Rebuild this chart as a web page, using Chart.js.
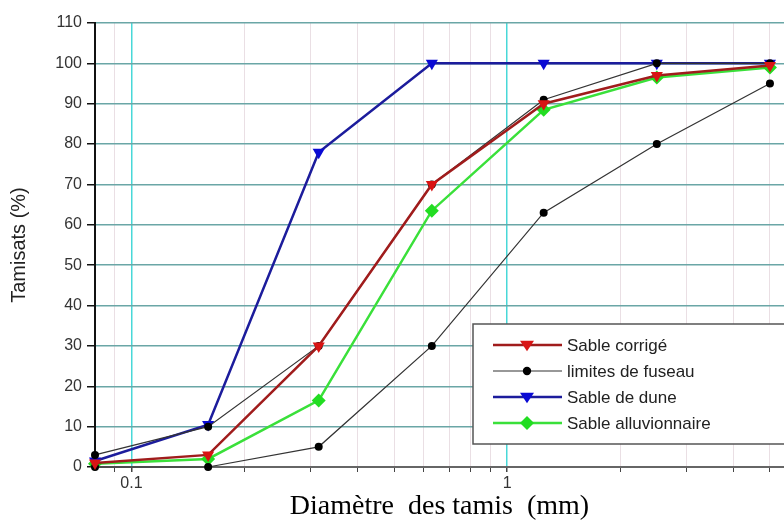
<!DOCTYPE html>
<html>
<head>
<meta charset="utf-8">
<script src="https://cdn.jsdelivr.net/npm/chart.js@4.4.1/dist/chart.umd.min.js"></script>
<style>
  html, body { margin: 0; padding: 0; background: #fff; }
  #wrap { width: 784px; height: 522px; }
</style>
</head>
<body>
<div id="wrap"><canvas id="sieveChart"></canvas></div>
<script>
// sieve sizes (mm) and passing percentages
const sieves = [0.08, 0.16, 0.315, 0.63, 1.25, 2.5, 5];
const sableCorrige = [1, 3, 30, 70, 90, 97, 99.5];
const fuseauHaut = [3, 10, 30, 70, 91, 100, 100];
const fuseauBas = [0, 0, 5, 30, 63, 80, 95];
const sableDune = [1.5, 10.5, 78, 100, 100, 100, 100];
const sableAlluv = [0.8, 2, 16.5, 63.5, 88.5, 96.5, 99];

const xTicks = [0.09, 0.1, 0.2, 0.3, 0.4, 0.5, 0.6, 0.7, 0.8, 0.9, 1, 2, 3, 4, 5];
const xLabels = { 0.1: '0.1', 1: '1' };

const legendItems = [
  { label: 'Sable corrigé', line: '#a01c1c', lw: 2.5, mark: 'triangle', color: '#d81414' },
  { label: 'limites de fuseau', line: '#333333', lw: 1.2, mark: 'circle', color: '#000000' },
  { label: 'Sable de dune', line: '#1c1c9c', lw: 2.5, mark: 'triangle', color: '#0a0ad4' },
  { label: 'Sable alluvionnaire', line: '#3ae03a', lw: 2.5, mark: 'diamond', color: '#22dd22' }
];

const pts = (arr) => sieves.map((s, i) => ({ x: s, y: arr[i] }));

function drawMark(ctx, kind, x, y, r, color) {
  ctx.fillStyle = color;
  ctx.beginPath();
  if (kind === 'triangle') {
    ctx.moveTo(x - r, y - r * 0.6);
    ctx.lineTo(x + r, y - r * 0.6);
    ctx.lineTo(x, y + r * 0.9);
  } else if (kind === 'circle') {
    ctx.arc(x, y, r * 0.6, 0, Math.PI * 2);
  } else {
    ctx.moveTo(x, y - r);
    ctx.lineTo(x + r, y);
    ctx.lineTo(x, y + r);
    ctx.lineTo(x - r, y);
  }
  ctx.closePath();
  ctx.fill();
}

const boxLegend = {
  id: 'boxLegend',
  afterDraw(chart) {
    const ctx = chart.ctx;
    const a = chart.chartArea;
    const bx = a.left + 378, by = 324, bw = 330, bh = 120;
    ctx.save();
    ctx.fillStyle = '#ffffff';
    ctx.fillRect(bx, by, bw, bh);
    ctx.strokeStyle = '#555555';
    ctx.lineWidth = 1.5;
    ctx.strokeRect(bx, by, bw, bh);
    ctx.font = '17px "Liberation Sans", Arial, sans-serif';
    ctx.textBaseline = 'middle';
    legendItems.forEach((it, i) => {
      const y = by + 21 + i * 26;
      ctx.strokeStyle = it.line;
      ctx.lineWidth = it.lw;
      ctx.beginPath();
      ctx.moveTo(bx + 20, y);
      ctx.lineTo(bx + 89, y);
      ctx.stroke();
      drawMark(ctx, it.mark, bx + 54, y, 7, it.color);
      ctx.fillStyle = '#222222';
      ctx.fillText(it.label, bx + 94, y + 1);
    });
    ctx.restore();
  }
};

const ctx = document.getElementById('sieveChart').getContext('2d');
const sieveChart = new Chart(ctx, {
  type: 'line',
  data: {
    datasets: [
      {
        label: 'Sable corrigé', data: pts(sableCorrige),
        borderColor: '#a01c1c', backgroundColor: '#d81414', borderWidth: 2.5,
        pointStyle: 'triangle', rotation: 180, pointRadius: 7, pointBorderWidth: 0
      },
      {
        label: 'limites de fuseau', data: pts(fuseauHaut),
        borderColor: '#333333', backgroundColor: '#000000', borderWidth: 1.2,
        pointStyle: 'circle', pointRadius: 4, pointBorderWidth: 0
      },
      {
        label: 'limites de fuseau (bas)', data: pts(fuseauBas),
        borderColor: '#333333', backgroundColor: '#000000', borderWidth: 1.2,
        pointStyle: 'circle', pointRadius: 4, pointBorderWidth: 0
      },
      {
        label: 'Sable de dune', data: pts(sableDune),
        borderColor: '#1c1c9c', backgroundColor: '#0a0ad4', borderWidth: 2.5,
        pointStyle: 'triangle', rotation: 180, pointRadius: 7, pointBorderWidth: 0
      },
      {
        label: 'Sable alluvionnaire', data: pts(sableAlluv),
        borderColor: '#3ae03a', backgroundColor: '#22dd22', borderWidth: 2.5,
        pointStyle: 'rectRot', pointRadius: 7, pointBorderWidth: 0
      }
    ]
  },
  options: {
    responsive: true,
    maintainAspectRatio: false,
    animation: false,
    clip: false,
    layout: { autoPadding: false, padding: { top: 23, right: 0, left: 0, bottom: 0 } },
    plugins: {
      legend: { display: false },
      tooltip: { enabled: false }
    },
    scales: {
      x: {
        type: 'logarithmic',
        min: 0.08,
        max: 5.45,
        afterBuildTicks: (scale) => { scale.ticks = xTicks.map(v => ({ value: v })); },
        afterFit: (scale) => {
          scale.height = 55;
          scale.paddingLeft = 0;
          scale.paddingRight = 0;
        },
        ticks: {
          autoSkip: false,
          maxRotation: 0,
          padding: 2,
          color: '#333333',
          font: { family: '"Liberation Sans", Arial, sans-serif', size: 16 },
          callback: (v) => xLabels[v] || ''
        },
        grid: {
          color: (c) => (c.tick && (c.tick.value === 0.1 || c.tick.value === 1)) ? '#48d8d8' : '#eadfe4',
          lineWidth: (c) => (c.tick && (c.tick.value === 0.1 || c.tick.value === 1)) ? 1.5 : 1,
          tickColor: '#444444',
          tickLength: 5
        },
        border: { color: '#666666', width: 2 },
        title: {
          display: true,
          text: 'Diamètre  des tamis  (mm)',
          color: '#000000',
          font: { family: '"Liberation Serif", "Times New Roman", serif', size: 28, lineHeight: 1.1 },
          padding: { top: 0, bottom: 0 }
        }
      },
      y: {
        min: 0,
        max: 110,
        afterFit: (scale) => {
          scale.width = 95;
          scale.paddingTop = 0;
          scale.paddingBottom = 0;
        },
        ticks: {
          stepSize: 5,
          padding: 5,
          color: '#333333',
          font: { family: '"Liberation Sans", Arial, sans-serif', size: 16 },
          callback: (v) => (v % 10 === 0 ? v : '')
        },
        grid: {
          color: (c) => (c.tick && c.tick.value % 10 === 0) ? '#6aa6a6' : '#b8e8e8',
          lineWidth: (c) => (c.tick && c.tick.value % 10 === 0) ? 1.5 : 1,
          tickColor: '#111111',
          tickLength: 8
        },
        border: { color: '#111111', width: 2 },
        title: {
          display: true,
          text: 'Tamisats (%)',
          color: '#222222',
          font: { family: '"Liberation Sans", Arial, sans-serif', size: 20 },
          padding: { top: 7, bottom: 0 }
        }
      }
    }
  },
  plugins: [boxLegend]
});
</script>
</body>
</html>
